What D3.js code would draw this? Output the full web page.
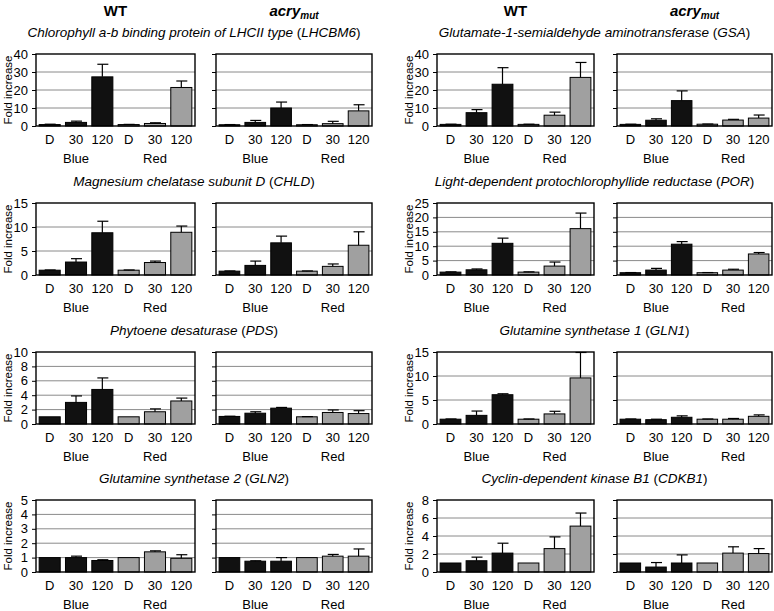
<!DOCTYPE html>
<html>
<head>
<meta charset="utf-8">
<script src="https://cdn.jsdelivr.net/npm/d3@7"></script>
<style>
  body { margin: 0; background: #fff; }
  svg { display: block; font-family: "Liberation Sans", Arial, sans-serif; }
</style>
</head>
<body>
<svg id="chart" width="774" height="611"></svg>
<script>
// categories
const conditions = ['D', '30', '120', 'D', '30', '120'];
const lights = ['Blue', 'Red'];
const geneNames = [
  'Chlorophyll a-b binding protein of LHCII type',
  'Glutamate-1-semialdehyde aminotransferase',
  'Magnesium chelatase subunit D',
  'Light-dependent protochlorophyllide reductase',
  'Phytoene desaturase',
  'Glutamine synthetase 1',
  'Glutamine synthetase 2',
  'Cyclin-dependent kinase B1'
];
const geneSymbols = ['LHCBM6', 'GSA', 'CHLD', 'POR', 'PDS', 'GLN1', 'GLN2', 'CDKB1'];
const yMax = [40, 40, 15, 25, 10, 15, 5, 8];
const yStep = [10, 10, 5, 5, 2, 5, 1, 2];

// fold increase, WT
const wtMeans = [
  [0.8, 2.0, 27.3, 0.8, 1.4, 21.4],
  [0.9, 7.4, 23.2, 0.9, 6.0, 27.0],
  [1.0, 2.7, 8.8, 1.0, 2.6, 8.9],
  [1.0, 1.8, 11.0, 1.0, 3.1, 16.1],
  [1.0, 3.0, 4.8, 1.0, 1.7, 3.2],
  [1.0, 1.8, 6.1, 1.0, 2.1, 9.6],
  [1.0, 1.0, 0.8, 1.0, 1.4, 0.95],
  [1.0, 1.25, 2.1, 1.0, 2.6, 5.1]
];
const wtErrors = [
  [0.2, 0.7, 7.0, 0.1, 0.4, 3.6],
  [0.1, 1.7, 9.2, 0.1, 1.7, 8.3],
  [0.05, 0.7, 2.4, 0.05, 0.3, 1.3],
  [0.1, 0.3, 1.8, 0.1, 1.4, 5.4],
  [0, 0.9, 1.6, 0, 0.4, 0.4],
  [0.05, 0.9, 0.2, 0.05, 0.55, 5.3],
  [0, 0.1, 0.05, 0, 0.07, 0.25],
  [0, 0.4, 1.1, 0, 1.3, 1.45]
];
// fold increase, acry_mut
const acryMeans = [
  [0.7, 2.0, 10.0, 0.7, 1.3, 8.4],
  [0.9, 3.2, 14.1, 1.0, 3.3, 4.4],
  [0.8, 2.0, 6.7, 0.8, 1.8, 6.2],
  [0.8, 1.7, 10.7, 0.8, 1.7, 7.3],
  [1.05, 1.5, 2.2, 1.0, 1.6, 1.45],
  [1.0, 0.9, 1.4, 1.0, 1.0, 1.6],
  [1.0, 0.75, 0.75, 1.0, 1.1, 1.1],
  [1.0, 0.55, 1.0, 1.0, 2.1, 2.05]
];
const acryErrors = [
  [0.1, 1.1, 3.3, 0.1, 1.3, 3.4],
  [0.1, 0.8, 5.4, 0.1, 0.4, 1.7],
  [0.05, 0.9, 1.4, 0.05, 0.5, 2.8],
  [0.05, 0.6, 0.9, 0.05, 0.3, 0.5],
  [0.03, 0.2, 0.1, 0.03, 0.35, 0.4],
  [0.05, 0.1, 0.3, 0.05, 0.15, 0.3],
  [0, 0.03, 0.25, 0, 0.12, 0.5],
  [0, 0.5, 0.9, 0, 0.7, 0.55]
];

const svg = d3.select('#chart');

// layout
const colPanels = [[[36, 195], [216, 372]], [[437, 594], [617, 772]]];
const rowTops = [54, 203, 352, 500];
const panelH = 72;
const barFill = ['#111', '#111', '#111', '#a0a0a0', '#a0a0a0', '#a0a0a0'];

function strainHeader(x, isWT) {
  const t = svg.append('text')
    .attr('x', x).attr('y', 16)
    .attr('text-anchor', 'middle')
    .attr('font-size', 15).attr('font-weight', 'bold');
  if (isWT) {
    t.text('WT');
  } else {
    t.append('tspan').attr('font-style', 'italic').text('acry');
    t.append('tspan').attr('font-style', 'italic').attr('font-size', 10).attr('dy', 3).text('mut');
  }
}

colPanels.forEach(panels => {
  strainHeader((panels[0][0] + panels[0][1]) / 2, true);
  strainHeader((panels[1][0] + panels[1][1]) / 2, false);
});

function drawPanel(g, x0, x1, top, means, errors, showLabels) {
  const x = d3.scaleBand().domain(d3.range(6)).range([x0, x1]).paddingInner(0.2).paddingOuter(0.12);
  const y = d3.scaleLinear().domain([0, yMax[g]]).range([top + panelH, top]);
  const ticks = d3.range(0, yMax[g] + 0.001, yStep[g]);
  const p = svg.append('g');

  p.selectAll('.grid').data(ticks.slice(1, -1)).join('line')
    .attr('x1', x0).attr('x2', x1)
    .attr('y1', d => y(d)).attr('y2', d => y(d))
    .attr('stroke', '#8a8a8a').attr('stroke-width', 1);

  p.selectAll('.bar').data(means).join('rect')
    .attr('x', (d, i) => x(i)).attr('width', x.bandwidth())
    .attr('y', d => y(d)).attr('height', d => y(0) - y(d))
    .attr('fill', (d, i) => barFill[i])
    .attr('stroke', '#000').attr('stroke-width', 1);

  means.forEach((m, i) => {
    const e = errors[i];
    if (e <= 0) return;
    const cx = x(i) + x.bandwidth() / 2;
    p.append('line').attr('x1', cx).attr('x2', cx).attr('y1', y(m)).attr('y2', y(m + e))
      .attr('stroke', '#000').attr('stroke-width', 1.2);
    p.append('line').attr('x1', cx - 5).attr('x2', cx + 6).attr('y1', y(m + e)).attr('y2', y(m + e))
      .attr('stroke', '#000').attr('stroke-width', 1.2);
  });

  p.append('rect')
    .attr('x', x0).attr('y', top).attr('width', x1 - x0).attr('height', panelH)
    .attr('fill', 'none').attr('stroke', '#000').attr('stroke-width', 1.4);

  const axis = d3.axisLeft(y).tickValues(ticks).tickSize(4).tickSizeOuter(0)
    .tickFormat(showLabels ? d3.format('d') : '');
  const ax = svg.append('g').attr('transform', `translate(${x0},0)`).call(axis);
  ax.select('.domain').remove();
  ax.selectAll('.tick line').attr('stroke', '#000');
  ax.selectAll('.tick text').attr('font-size', 13).attr('fill', '#000')
    .attr('font-family', '"Liberation Sans", Arial, sans-serif').attr('dx', -1);

  svg.append('g').selectAll('text').data(conditions).join('text')
    .attr('x', (d, i) => x(i) + x.bandwidth() / 2)
    .attr('y', top + panelH + 18)
    .attr('text-anchor', 'middle').attr('font-size', 13)
    .text(d => d);

  svg.append('g').selectAll('text').data(lights).join('text')
    .attr('x', (d, i) => x(i * 3 + 1) + x.bandwidth() / 2)
    .attr('y', top + panelH + 37)
    .attr('text-anchor', 'middle').attr('font-size', 13)
    .text(d => d);
}

geneNames.forEach((name, g) => {
  const row = Math.floor(g / 2), col = g % 2;
  const top = rowTops[row];
  const panels = colPanels[col];

  const title = svg.append('text')
    .attr('x', (panels[0][0] + panels[1][1]) / 2 - 10)
    .attr('y', top - 17)
    .attr('text-anchor', 'middle').attr('font-size', 13.5);
  title.append('tspan').attr('font-style', 'italic').text(name + ' ');
  title.append('tspan').text('(');
  title.append('tspan').attr('font-style', 'italic').text(geneSymbols[g]);
  title.append('tspan').text(')');

  svg.append('text')
    .attr('transform', `translate(${panels[0][0] - 24},${top + panelH / 2}) rotate(-90)`)
    .attr('text-anchor', 'middle').attr('font-size', 11.5)
    .text('Fold increase');

  drawPanel(g, panels[0][0], panels[0][1], top, wtMeans[g], wtErrors[g], true);
  drawPanel(g, panels[1][0], panels[1][1], top, acryMeans[g], acryErrors[g], false);
});
</script>
</body>
</html>
